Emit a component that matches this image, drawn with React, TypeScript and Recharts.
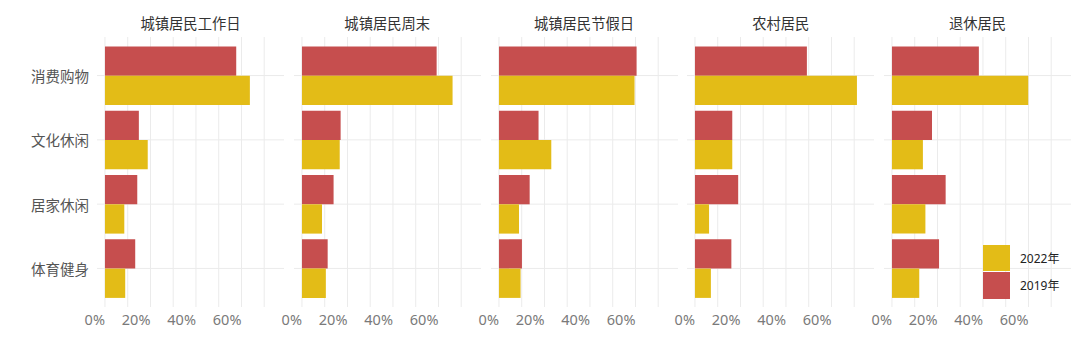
import { BarChart, Bar, XAxis, YAxis, CartesianGrid } from "recharts";

const categories = ["消费购物", "文化休闲", "居家休闲", "体育健身"];
const facetTitles = ["城镇居民工作日", "城镇居民周末", "城镇居民节假日", "农村居民", "退休居民"];

// share of time, %, per facet in category order
const workday2019 = [57.7, 14.9, 14.2, 13.3];
const workday2022 = [63.7, 18.8, 8.5, 8.9];
const weekend2019 = [59.2, 17.0, 13.9, 11.3];
const weekend2022 = [66.2, 16.6, 8.8, 10.5];
const holiday2019 = [60.5, 17.4, 13.5, 10.1];
const holiday2022 = [59.6, 23.0, 8.8, 9.5];
const rural2019 = [49.2, 16.4, 19.0, 16.0];
const rural2022 = [71.2, 16.4, 6.2, 7.0];
const retired2019 = [38.2, 17.6, 23.6, 20.7];
const retired2022 = [59.9, 13.6, 14.7, 12.0];

const values2019 = [workday2019, weekend2019, holiday2019, rural2019, retired2019];
const values2022 = [workday2022, weekend2022, holiday2022, rural2022, retired2022];

const xTicks = [0, 10, 20, 30, 40, 50, 60, 70];
const labelledTicks = [0, 20, 40, 60];

const seriesNames = ["2022年", "2019年"];
const RED = "#C64E4E";
const YELLOW = "#E3BC17";

const PANEL_W = 187;
const PANEL_TOP = 37;
const PANEL_H = 270;
const Y_AXIS_W = 97;
const LEFT_PAD = 24; // room for the right-aligned "0%" label
const X_AXIS_H = 30;
const panelLefts = [97, 293.75, 490.5, 687.25, 884];

const latin = '"Noto Sans", "Noto Sans CJK SC", sans-serif';
const cjk = '"Noto Sans CJK SC", sans-serif';

const XTick = (props: any) => {
  const { x, y, payload } = props;
  if (!labelledTicks.includes(payload.value)) return null;
  return (
    <text x={x} y={y} dy="0.71em" textAnchor="end" fill="#7a7a7a" fontSize={14.5} fontFamily={latin}>
      {payload.value}%
    </text>
  );
};

const YTick = (props: any) => {
  const { x, y, payload } = props;
  return (
    <text x={x} y={y} textAnchor="end" dominantBaseline="central" fill="#555" fontSize={14.5} fontFamily={cjk}>
      {payload.value}
    </text>
  );
};

const Panel = ({ index }: { index: number }) => {
  const first = index === 0;
  const data = categories.map((cat, i) => ({
    cat,
    y2019: values2019[index][i],
    y2022: values2022[index][i],
  }));
  const leftSpace = first ? Y_AXIS_W : LEFT_PAD;
  const width = PANEL_W + leftSpace;
  const left = panelLefts[index] - leftSpace;
  return (
    <div style={{ position: "absolute", left, top: 0 }}>
      <BarChart
        width={width}
        height={360}
        data={data}
        layout="vertical"
        barGap={0}
        barSize={29.3}
        margin={{
          top: PANEL_TOP,
          right: 0,
          bottom: 360 - PANEL_TOP - PANEL_H - X_AXIS_H,
          left: first ? 0 : LEFT_PAD,
        }}
      >
        <CartesianGrid stroke="#ebebeb" strokeWidth={1} syncWithTicks />
        <XAxis
          type="number"
          domain={[-3.5, 78.7]}
          ticks={xTicks}
          allowDataOverflow
          axisLine={false}
          tickLine={false}
          height={X_AXIS_H}
          tick={<XTick />}
          interval={0}
        />
        <YAxis
          type="category"
          dataKey="cat"
          hide={!first}
          width={first ? Y_AXIS_W : 0}
          axisLine={false}
          tickLine={false}
          padding={{ top: 6.4, bottom: 6.4 }}
          tick={<YTick />}
          interval={0}
        />
        <Bar dataKey="y2019" fill={RED} isAnimationActive={false} />
        <Bar dataKey="y2022" fill={YELLOW} isAnimationActive={false} />
      </BarChart>
      <div
        style={{
          position: "absolute",
          top: 13,
          left: leftSpace,
          width: PANEL_W,
          textAlign: "center",
          fontSize: 14.3,
          color: "#333",
          fontFamily: cjk,
          lineHeight: "20px",
        }}
      >
        {facetTitles[index]}
      </div>
    </div>
  );
};

const Legend = () => (
  <div style={{ position: "absolute", left: 983, top: 244, fontFamily: latin, fontSize: 12, color: "#222" }}>
    {seriesNames.map((name, i) => (
      <div key={name} style={{ display: "flex", alignItems: "center", height: 27.5 }}>
        <div style={{ width: 26.5, height: 26.5, background: i === 0 ? YELLOW : RED }} />
        <span style={{ marginLeft: 10.5 }}>{name}</span>
      </div>
    ))}
  </div>
);

export default function App() {
  return (
    <div style={{ position: "absolute", left: 0, top: 0, width: 1080, height: 360, background: "#fff", overflow: "hidden" }}>
      {facetTitles.map((_t, i) => (
        <Panel key={i} index={i} />
      ))}
      <Legend />
    </div>
  );
}
